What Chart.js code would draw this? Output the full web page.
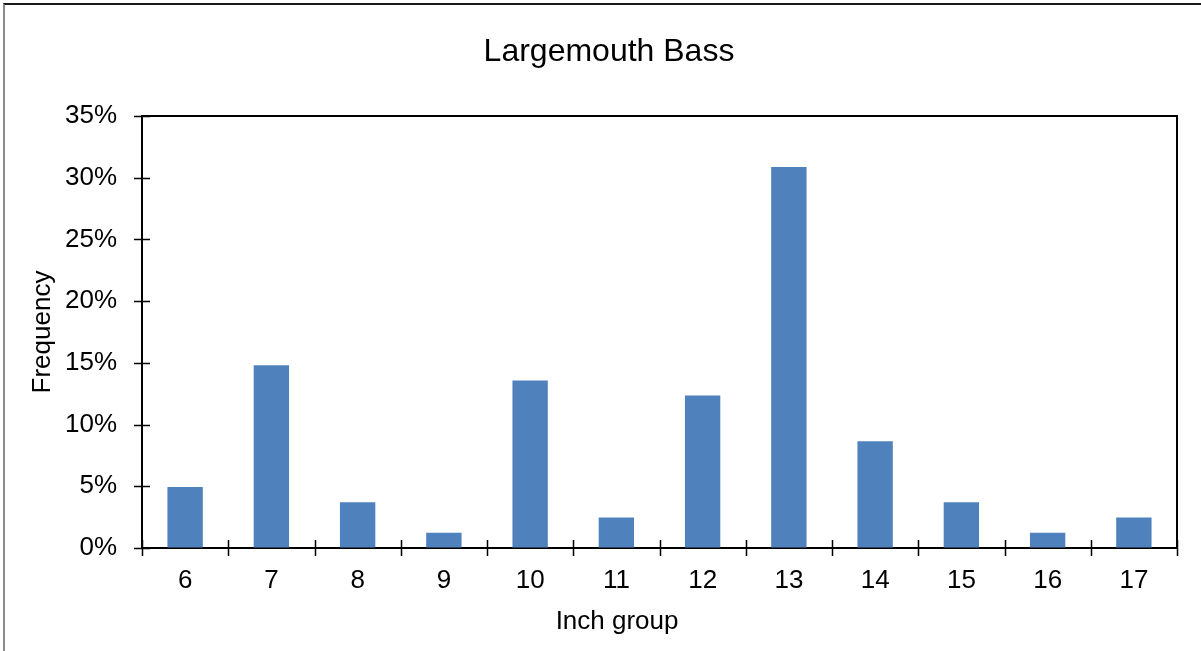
<!DOCTYPE html>
<html>
<head>
<meta charset="utf-8">
<title>Largemouth Bass</title>
<script src="https://cdn.jsdelivr.net/npm/chart.js@4.4.1/dist/chart.umd.min.js"></script>
<style>
  html, body { margin: 0; padding: 0; background: #fff; overflow: hidden; }
  #wrap { position: relative; width: 1201px; height: 651px; }
  #frame {
    position: absolute; left: 3px; top: 3px; right: 0; bottom: 0;
    border-top: 2px solid #1a1a1a; border-left: 2px solid #8c8c8c;
    pointer-events: none;
  }
</style>
</head>
<body>
<div id="wrap">
  <canvas id="bass" width="1201" height="651"></canvas>
  <div id="frame"></div>
</div>
<script>
// ─── DATA ─────────────────────────────────────────────────
const inchGroups = ['6', '7', '8', '9', '10', '11', '12', '13', '14', '15', '16', '17'];
const frequency = [4.94, 14.81, 3.70, 1.23, 13.58, 2.47, 12.35, 30.86, 8.64, 3.70, 1.23, 2.47];
const yTickValues = [0, 5, 10, 15, 20, 25, 30, 35];

const FONT = "'Liberation Sans', Arial, sans-serif";

// Excel-style tick marks that cross the axis line, plus the top/right frame of the plot
const crossTicks = {
    id: 'crossTicks',
    afterDraw(chart) {
        const { ctx, chartArea: a, scales: { x, y } } = chart;
        ctx.save();
        ctx.strokeStyle = '#000';
        ctx.lineWidth = 2;
        ctx.beginPath();
        ctx.moveTo(a.left, a.top);
        ctx.lineTo(a.right, a.top);
        ctx.lineTo(a.right, a.bottom);
        ctx.stroke();

        ctx.lineWidth = 1.5;
        ctx.beginPath();
        yTickValues.forEach(v => {
            const py = Math.round(y.getPixelForValue(v)) + 0.5;
            ctx.moveTo(a.left - 8, py);
            ctx.lineTo(a.left + 8, py);
        });
        const step = (a.right - a.left) / inchGroups.length;
        for (let i = 0; i <= inchGroups.length; i++) {
            const px = Math.round(x.getPixelForValue(0) - step / 2 + i * step) + 0.5;
            ctx.moveTo(px, a.bottom - 8);
            ctx.lineTo(px, a.bottom + 8);
        }
        ctx.stroke();

        // axis captions
        ctx.fillStyle = '#000';
        ctx.font = `26px ${FONT}`;
        ctx.textAlign = 'center';
        ctx.textBaseline = 'middle';
        ctx.fillText('Inch group', a.left + (a.right - a.left) * 0.459, 622);
        ctx.translate(43, (a.top + a.bottom) / 2);
        ctx.rotate(-Math.PI / 2);
        ctx.fillText('Frequency', 0, 0);
        ctx.restore();
    }
};

new Chart(document.getElementById('bass'), {
    type: 'bar',
    data: {
        labels: inchGroups,
        datasets: [{
            data: frequency,
            backgroundColor: '#4F81BD',
            borderWidth: 0,
            barPercentage: 0.41,
            categoryPercentage: 1.0,
        }]
    },
    options: {
        responsive: false,
        animation: false,
        layout: { padding: { left: 41, right: 24, top: 0, bottom: 0 } },
        plugins: {
            legend: { display: false },
            tooltip: { enabled: false },
            title: {
                display: true,
                text: 'Largemouth Bass',
                color: '#000',
                font: { family: FONT, size: 32, weight: 'normal' },
                padding: { top: 33, bottom: 44.6 },
            },
        },
        scales: {
            x: {
                grid: { display: true, drawOnChartArea: false, drawTicks: false },
                border: { color: '#000', width: 2 },
                ticks: { color: '#000', font: { family: FONT, size: 26 }, padding: 17, maxRotation: 0 },
                afterFit: s => { s.height = 103; },
            },
            y: {
                min: 0,
                max: 35,
                grid: { display: true, drawOnChartArea: false, drawTicks: false },
                border: { color: '#000', width: 2 },
                ticks: {
                    stepSize: 5,
                    color: '#000',
                    font: { family: FONT, size: 26 },
                    padding: 25,
                    callback: v => v + '%',
                },
                afterFit: s => { s.width = 101; },
            },
        },
    },
    plugins: [crossTicks],
});
</script>
</body>
</html>
